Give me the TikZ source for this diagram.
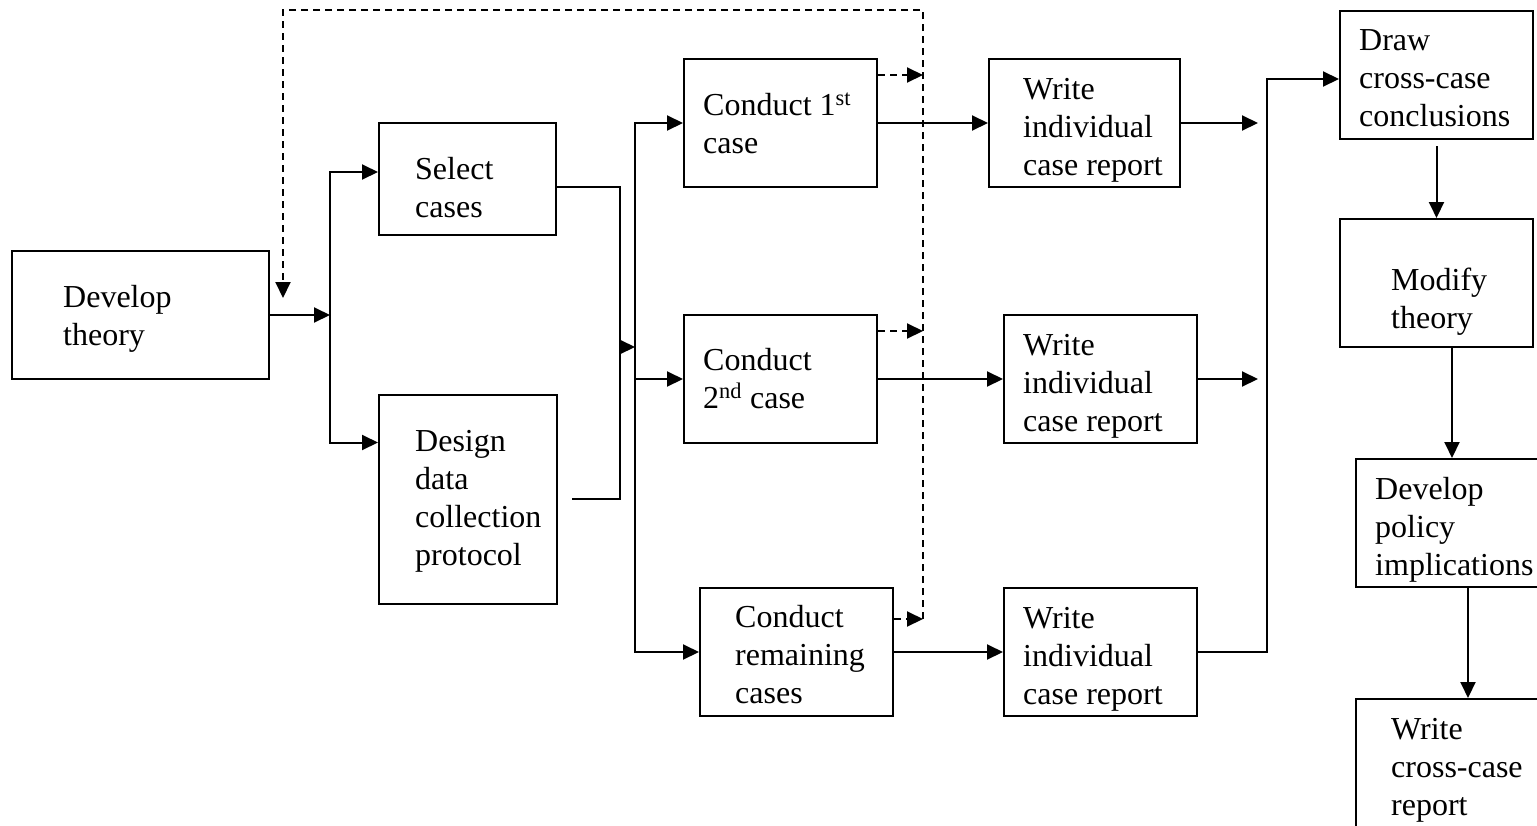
\documentclass[tikz,border=0pt]{standalone}
\usepackage{fontspec}
\setmainfont{Liberation Serif}
\usetikzlibrary{arrows.meta}
\tikzset{
	stage/.style 2 args={draw,line width=2pt,anchor=north west,inner sep=0pt,minimum width=#1pt,minimum height=#2pt},
	words/.style={anchor=base west,align=left,inner sep=0pt},
	wire/.style={line width=2pt},
	flow/.style={wire,-{Triangle[length=16pt,width=15pt]}},
	loopback/.style={flow,dash pattern=on 7pt off 5pt}
}

\begin{document}
\begin{tikzpicture}[x=1pt,y=-1pt,font=\fontsize{32}{38}\selectfont]
	\useasboundingbox (0,0) rectangle (1537,825);

	\node [stage={257}{128}] (theory) at (11,250) {};
	\node [stage={177}{112}] (select) at (378,122) {};
	\node [stage={178}{209}] (design) at (378,394) {};
	\node [stage={193}{128}] (first) at (683,58) {};
	\node [stage={193}{128}] (second) at (683,314) {};
	\node [stage={193}{128}] (rest) at (699,587) {};
	\node [stage={191}{128}] (rep1) at (988,58) {};
	\node [stage={193}{128}] (rep2) at (1003,314) {};
	\node [stage={193}{128}] (rep3) at (1003,587) {};
	\node [stage={193}{128}] (cross) at (1339,10) {};
	\node [stage={193}{128}] (modify) at (1339,218) {};
	\node [stage={192}{128}] (policy) at (1355,458) {};
	\node [stage={224}{170}] (final) at (1355,698) {};

	% texts sit on the baseline of their last line
	\node [words] (theorytx) at (63,345) {Develop\\theory};
	\node [words] (selecttx) at (415,217) {Select\\cases};
	\node [words] (designtx) at (415,565) {Design\\data\\collection\\protocol};
	\node [words] (firsttx) at (703,153) {Conduct 1\textsuperscript{st}\\case};
	\node [words] (secondtx) at (703,408) {Conduct\\2\textsuperscript{nd} case};
	\node [words] (resttx) at (735,703) {Conduct\\remaining\\cases};
	\node [words] (rep1tx) at (1023,175) {Write\\individual\\case report};
	\node [words] (rep2tx) at (1023,431) {Write\\individual\\case report};
	\node [words] (rep3tx) at (1023,704) {Write\\individual\\case report};
	\node [words] (crosstx) at (1359,126) {Draw\\cross-case\\conclusions};
	\node [words] (modifytx) at (1391,328) {Modify\\theory};
	\node [words] (policytx) at (1375,575) {Develop\\policy\\implications};
	\node [words] (finaltx) at (1391,815) {Write\\cross-case\\report};

	\coordinate (fork) at (330,314);
	\coordinate (merge) at (620,347);
	\coordinate (bus) at (635,347);
	\coordinate (loop) at (923,10);
	\coordinate (back) at (283,298);
	\coordinate (end1) at (1258,122);
	\coordinate (end2) at (1258,378);
	\coordinate (riser) at (1267,400);

	% start: theory to the two preparation steps
	\draw [flow] (theory.east) -- (theory.east -| fork);
	\draw [flow] (fork) |- ([yshift=7pt]select.west);
	\draw [flow] (fork) |- ([yshift=57pt]design.west);

	% preparation joins, then the cases
	\draw [wire] ([yshift=-8pt]select.east) -| (merge) |- ([xshift=14pt,yshift=1pt]design.east);
	\draw [flow] (merge) -- (bus);
	\draw [flow] (bus) |- (first.west);
	\draw [flow] (bus) |- (second.west);
	\draw [flow] (bus) |- (rest.west);

	\draw [flow] (first.east) -- (rep1.west);
	\draw [flow] (second.east) -- (rep2.west);
	\draw [flow] (rest.east) -- (rep3.west);

	% dashed feedback
	\draw [loopback] ([yshift=48pt]first.east) -- ([yshift=48pt]first.east -| loop);
	\draw [loopback] ([yshift=48pt]second.east) -- ([yshift=48pt]second.east -| loop);
	\draw [loopback] ([yshift=33pt]rest.east) -- ([yshift=33pt]rest.east -| loop);
	\draw [loopback] ([yshift=33pt]rest.east -| loop) -- (loop) -| (back);

	% cross-case part
	\draw [flow] (rep1.east) -- (rep1.east -| end1);
	\draw [flow] (rep2.east) -- (rep2.east -| end2);
	\draw [flow] (rep3.east) -| (riser) |- ([yshift=-4pt]cross.west);
	\draw [flow] ([yshift=-6pt]cross.south) -- (modify.north);
	\draw [flow] (modify.south -| policy.north) -- (policy.north);
	\draw [flow] (policy.south -| final.north) -- (final.north);
\end{tikzpicture}
\end{document}
